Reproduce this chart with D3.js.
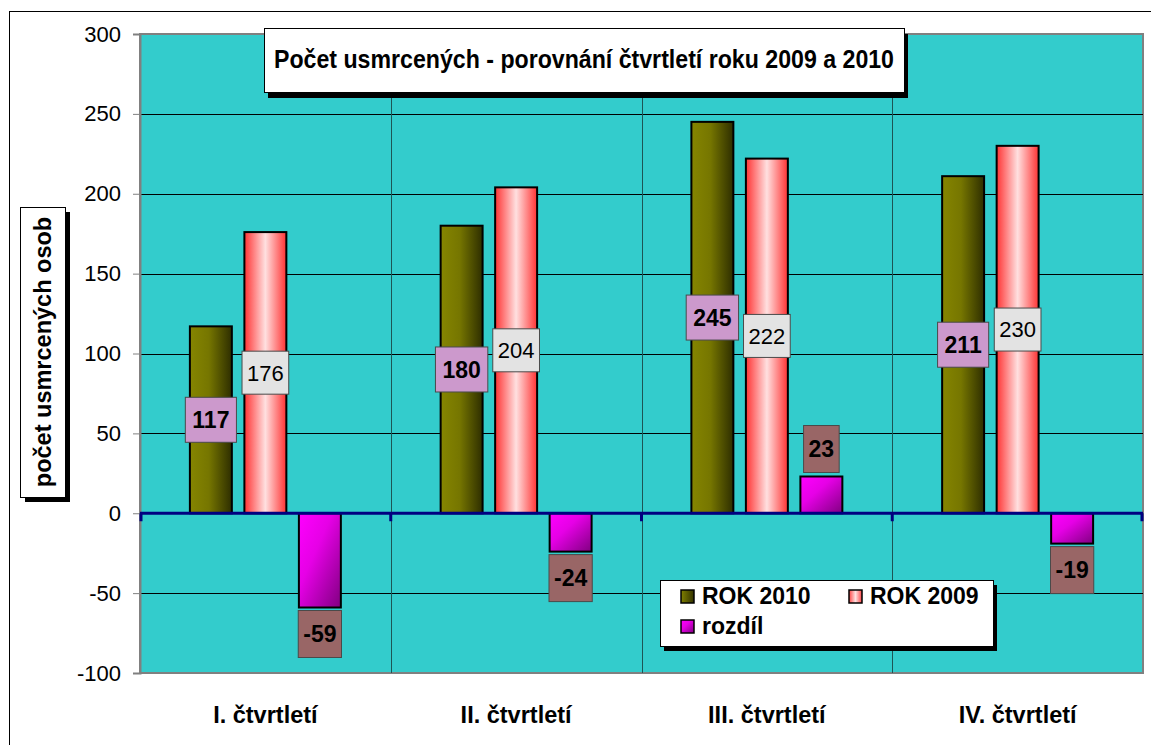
<!DOCTYPE html>
<html>
<head>
<meta charset="utf-8">
<script src="https://cdn.jsdelivr.net/npm/d3@7"></script>
<style>
  html, body { margin: 0; padding: 0; background: #fff; }
  svg { display: block; font-family: Arial, "Liberation Sans", sans-serif; }
</style>
</head>
<body>
<svg id="chart" width="1151" height="745"></svg>
<script>
const categories = ['I. čtvrtletí', 'II. čtvrtletí', 'III. čtvrtletí', 'IV. čtvrtletí'];
const series = ['ROK 2010', 'ROK 2009', 'rozdíl'];
const rok2010 = [117, 180, 245, 211];
const rok2009 = [176, 204, 222, 230];
const rozdil = [-59, -24, 23, -19];
const yTicks = [-100, -50, 0, 50, 100, 150, 200, 250, 300];
const chartTitle = 'Počet usmrcených - porovnání čtvrtletí roku 2009 a 2010';
const yTitle = 'počet usmrcených osob';

const svg = d3.select('#chart');
const plot = { left: 140, right: 1143, top: 34, bottom: 673 };

const x = d3.scaleBand().domain(categories).range([plot.left, plot.right]);
const groupWidth = 163.5;
const x1 = d3.scaleBand().domain(series).range([0, groupWidth])
    .paddingInner(0.23).paddingOuter(0.115);
const y = d3.scaleLinear().domain([-100, 300]).range([plot.bottom, plot.top]);

// gradients
const defs = svg.append('defs');
function linGrad(id, stops, x2 = '100%', y2 = '0%') {
    const g = defs.append('linearGradient').attr('id', id)
        .attr('x1', '0%').attr('y1', '0%').attr('x2', x2).attr('y2', y2);
    stops.forEach(s => g.append('stop').attr('offset', s[0]).attr('stop-color', s[1]));
}
linGrad('g2010', [['0%', '#858500'], ['45%', '#767600'], ['100%', '#2e2e00']]);
linGrad('g2009', [['0%', '#ff3333'], ['50%', '#ffe0e0'], ['100%', '#ff3333']]);
linGrad('gdiff', [['0%', '#ff00ff'], ['40%', '#e600e6'], ['100%', '#800080']], '100%', '100%');
linGrad('s2010', [['0%', '#808000'], ['100%', '#333300']]);
linGrad('s2009', [['0%', '#ff4444'], ['50%', '#ffe0e0'], ['100%', '#ff4444']]);

const fills = { 'ROK 2010': 'url(#g2010)', 'ROK 2009': 'url(#g2009)', 'rozdíl': 'url(#gdiff)' };

// outer frame
svg.append('rect').attr('x', 9.5).attr('y', 11.5).attr('width', 1160).attr('height', 760)
    .attr('fill', 'none').attr('stroke', '#000').attr('stroke-width', 1);

// plot background
svg.append('rect')
    .attr('x', plot.left).attr('y', plot.top)
    .attr('width', plot.right - plot.left).attr('height', plot.bottom - plot.top)
    .attr('fill', '#33cccc').attr('stroke', '#808080').attr('stroke-width', 2);

// horizontal gridlines
svg.append('g').selectAll('line')
    .data(yTicks.filter(t => t !== 0 && t !== 300 && t !== -100))
    .join('line')
    .attr('x1', plot.left).attr('x2', plot.right)
    .attr('y1', d => Math.round(y(d)) + 0.5).attr('y2', d => Math.round(y(d)) + 0.5)
    .attr('stroke', '#000').attr('stroke-width', 1);

// vertical category separators
const bounds = categories.slice(1).map(c => x(c));
svg.append('g').selectAll('line')
    .data(bounds)
    .join('line')
    .attr('x1', d => Math.round(d) + 0.5).attr('x2', d => Math.round(d) + 0.5)
    .attr('y1', plot.top).attr('y2', plot.bottom)
    .attr('stroke', '#1d5555').attr('stroke-width', 1);

// y axis
const yAxis = svg.append('g')
    .attr('transform', `translate(${plot.left},0)`)
    .call(d3.axisLeft(y).tickValues(yTicks).tickSize(7).tickPadding(12).tickFormat(d => String(d)));
yAxis.select('.domain').attr('stroke', '#808080').attr('stroke-width', 2);
yAxis.selectAll('.tick line').attr('stroke', '#808080');
yAxis.selectAll('.tick text')
    .attr('font-size', 22).attr('fill', '#000')
    .attr('font-family', 'Arial, "Liberation Sans", sans-serif');

// bars
const data = categories.map((c, i) => ({
    cat: c,
    values: [
        { key: 'ROK 2010', v: rok2010[i] },
        { key: 'ROK 2009', v: rok2009[i] },
        { key: 'rozdíl', v: rozdil[i] }
    ]
}));

const groups = svg.append('g').selectAll('g')
    .data(data)
    .join('g')
    .attr('transform', d => `translate(${x(d.cat) + x.bandwidth() / 2 - groupWidth / 2},0)`);

groups.selectAll('rect')
    .data(d => d.values)
    .join('rect')
    .attr('x', d => x1(d.key))
    .attr('width', x1.bandwidth())
    .attr('y', d => y(Math.max(0, d.v)))
    .attr('height', d => Math.abs(y(d.v) - y(0)))
    .attr('fill', d => fills[d.key])
    .attr('stroke', '#000').attr('stroke-width', 2);

// zero line with ticks
svg.append('line')
    .attr('x1', plot.left).attr('x2', plot.right)
    .attr('y1', y(0)).attr('y2', y(0))
    .attr('stroke', '#000080').attr('stroke-width', 3);
svg.append('g').selectAll('line')
    .data([plot.left + 1, ...bounds, plot.right - 1])
    .join('line')
    .attr('x1', d => d).attr('x2', d => d)
    .attr('y1', y(0)).attr('y2', y(0) + 8)
    .attr('stroke', '#000080').attr('stroke-width', 3);

// data labels
const labelStyle = {
    'ROK 2010': { fill: '#cc99cc', h: 45, bold: true, size: 23, pad: 7 },
    'ROK 2009': { fill: '#e3e3e3', h: 43, bold: false, size: 22, pad: 5 },
    'rozdíl': { fill: '#996666', h: 47, bold: true, size: 23, pad: 5 }
};

groups.each(function (d) {
    const g = d3.select(this);
    d.values.forEach(item => {
        const st = labelStyle[item.key];
        const cx = x1(item.key) + x1.bandwidth() / 2;
        let cy;
        if (item.key === 'rozdíl') {
            cy = item.v < 0 ? y(item.v) + 3 + st.h / 2 : y(item.v) - 4 - st.h / 2;
        } else {
            cy = y(item.v / 2);
        }
        const box = g.append('rect')
            .attr('fill', st.fill).attr('stroke', '#4a4a4a').attr('stroke-width', 1);
        const t = g.append('text')
            .attr('x', cx).attr('y', cy)
            .attr('dy', '0.36em')
            .attr('text-anchor', 'middle')
            .attr('font-size', st.size)
            .attr('font-weight', st.bold ? 'bold' : 'normal')
            .attr('fill', '#000')
            .text(item.v);
        const w = t.node().getComputedTextLength() + 2 * st.pad;
        box.attr('x', cx - w / 2).attr('y', cy - st.h / 2)
            .attr('width', w).attr('height', st.h);
    });
});

// category labels
svg.append('g').selectAll('text')
    .data(categories)
    .join('text')
    .attr('x', d => x(d) + x.bandwidth() / 2)
    .attr('y', 723)
    .attr('text-anchor', 'middle')
    .attr('font-size', 23.5).attr('font-weight', 'bold')
    .text(d => d);

// boxed text helper with shadow
function shadowBox(bx, by, bw, bh, dx, dy) {
    svg.append('rect').attr('x', bx + dx).attr('y', by + dy)
        .attr('width', bw).attr('height', bh).attr('fill', '#000');
    svg.append('rect').attr('x', bx + 0.5).attr('y', by + 0.5)
        .attr('width', bw).attr('height', bh)
        .attr('fill', '#fff').attr('stroke', '#000').attr('stroke-width', 1);
}

// title
shadowBox(264, 28, 640, 64, 4, 6);
svg.append('text')
    .attr('x', 584).attr('y', 68)
    .attr('text-anchor', 'middle')
    .attr('font-family', '"Liberation Sans Narrow", "Arial Narrow", Arial, sans-serif')
    .attr('font-size', 25).attr('font-weight', 'bold')
    .attr('textLength', 620).attr('lengthAdjust', 'spacingAndGlyphs')
    .text(chartTitle);

// y title
shadowBox(20, 207, 45, 290, 5, 5);
svg.append('text')
    .attr('transform', 'translate(51,352) rotate(-90)')
    .attr('text-anchor', 'middle')
    .attr('font-size', 23.5).attr('font-weight', 'bold')
    .text(yTitle);

// legend
shadowBox(660, 580, 333, 66, 4, 5);
const legendItems = [
    { name: 'ROK 2010', fill: 'url(#s2010)', lx: 681, ly: 590 },
    { name: 'ROK 2009', fill: 'url(#s2009)', lx: 849, ly: 590 },
    { name: 'rozdíl', fill: 'url(#gdiff)', lx: 681, ly: 620 }
];
const lg = svg.append('g').selectAll('g')
    .data(legendItems)
    .join('g')
    .attr('transform', d => `translate(${d.lx},${d.ly})`);
lg.append('rect')
    .attr('width', 13).attr('height', 13)
    .attr('fill', d => d.fill).attr('stroke', '#000').attr('stroke-width', 1.5);
lg.append('text')
    .attr('x', 21).attr('y', 14)
    .attr('font-size', 23).attr('font-weight', 'bold')
    .text(d => d.name);
</script>
</body>
</html>
